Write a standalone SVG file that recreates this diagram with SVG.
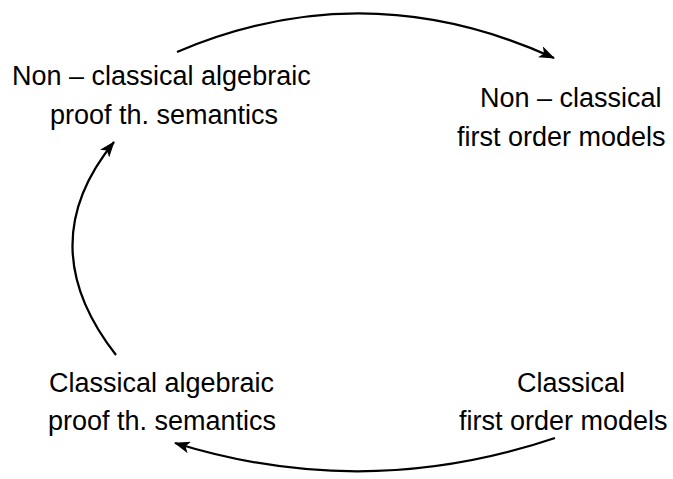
<svg xmlns="http://www.w3.org/2000/svg" width="673" height="479" viewBox="0 0 673 479">
<defs>
<style>
text{font-family:"Liberation Sans",Arial,sans-serif;font-size:27px;fill:#000}
.c{fill:none;stroke:#000;stroke-width:2.2}
</style>
<marker id="ah" viewBox="0 0 16 12" refX="15" refY="6" markerWidth="16" markerHeight="12" markerUnits="userSpaceOnUse" orient="auto">
<path d="M0,0 L16,6 L0,12 L4,6 Z" fill="#000"/>
</marker>
</defs>
<rect width="673" height="479" fill="#fff"/>
<g id="n1"><text x="12" y="85">Non – classical algebraic</text><text x="50" y="124">proof th. semantics</text></g>
<g id="n2"><text x="480" y="107">Non – classical</text><text x="457" y="146">first order models</text></g>
<g id="n3"><text x="49" y="392">Classical algebraic</text><text x="48" y="430">proof th. semantics</text></g>
<g id="n4"><text x="517" y="392">Classical</text><text x="459" y="430">first order models</text></g>
<g id="connectors">
<path class="c" d="M177,52 Q365,-28 554,58" marker-end="url(#ah)"/>
<path class="c" d="M116,355 Q30,245 114,142" marker-end="url(#ah)"/>
<path class="c" d="M555,438 Q365,502 175,443" marker-end="url(#ah)"/>
</g>
</svg>
